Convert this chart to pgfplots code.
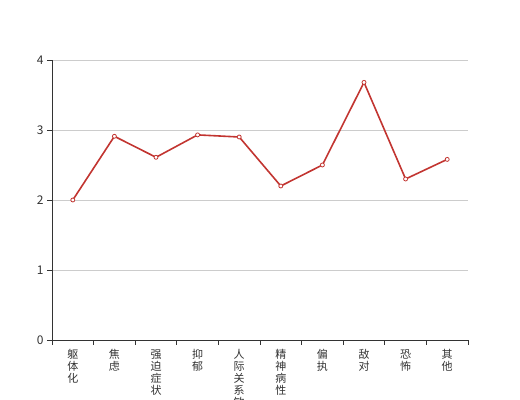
\documentclass[border=0pt]{standalone}
\usepackage{pgfplots}
\pgfplotsset{compat=1.18}
\usepackage{fontspec}
\setmainfont{Noto Sans CJK SC}
\definecolor{linered}{HTML}{C23531}
\definecolor{axisgray}{HTML}{333333}
\definecolor{gridgray}{HTML}{CCCCCC}
\begin{document}
\begin{tikzpicture}
\begin{axis}[
  name=ax,
  scale only axis, width=416pt, height=280pt,
  xmin=-0.5, xmax=9.5, ymin=0, ymax=4,
  ytick={0,1,2,3,4},
  xtick={0,...,9},
  xticklabels={{躯\\体\\化},{焦\\虑},{强\\迫\\症\\状},{抑\\郁},{人\\际\\关\\系\\敏\\感},{精\\神\\病\\性},{偏\\执},{敌\\对},{恐\\怖},{其\\他}},
  minor xtick={-0.5,0.5,...,9.5},
  axis x line*=bottom, axis y line*=left,
  axis line style={axisgray, line width=0.8pt, -},
  tick align=outside,
  major tick length=5pt, minor tick length=5pt,
  major x tick style={draw=none},
  minor x tick style={axisgray, line width=0.8pt},
  major y tick style={axisgray, line width=0.8pt},
  ymajorgrids, grid style={gridgray, line width=0.8pt},
  x tick label style={align=center, anchor=north, font=\fontsize{11}{12}\selectfont, text=axisgray, yshift=-1pt},
  y tick label style={font=\fontsize{12}{12}\selectfont, text=axisgray},
  /pgf/number format/assume math mode=true,
]
\addplot[linered, line width=1.6pt, mark=*, mark size=2pt, mark options={fill=white, draw=linered, line width=0.8pt}]
coordinates {(0,2.00) (1,2.91) (2,2.61) (3,2.93) (4,2.90) (5,2.20) (6,2.50) (7,3.68) (8,2.30) (9,2.58)};
\end{axis}
\pgfresetboundingbox
\path[use as bounding box] ([shift={(-52pt,-60pt)}]ax.south west) rectangle ([shift={(52pt,60pt)}]ax.north east);
\end{tikzpicture}
\end{document}
